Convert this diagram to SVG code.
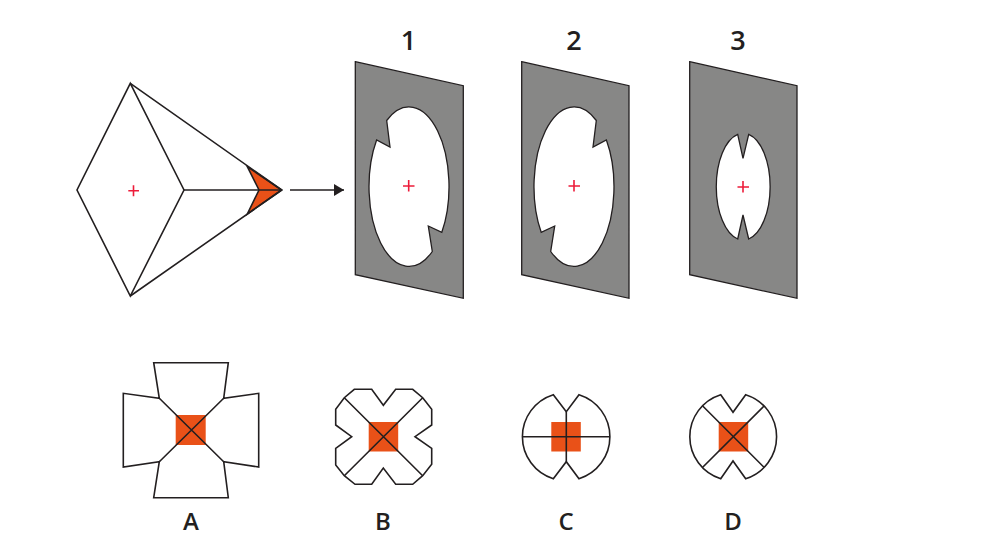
<svg xmlns="http://www.w3.org/2000/svg" width="985" height="555" viewBox="0 0 985 555">
<style>
.ln{fill:none;stroke:#231f20;stroke-width:1.6;stroke-linejoin:round}
.wh{fill:#fff;stroke:#231f20;stroke-width:1.6;stroke-linejoin:miter}
.or{fill:#e95118}
.pl{fill:#878786;fill-rule:evenodd;stroke:#231f20;stroke-width:1.3}
.cr{fill:none;stroke:#ed1c3a;stroke-width:1.6}
.nm{font-family:"Open Sans","Noto Sans",sans-serif;font-weight:600;fill:#231f20;text-anchor:middle}
.d{font-size:27px}
.l{font-size:24px}
.ar{fill:none;stroke:#231f20;stroke-width:1.5}
</style>
<defs>
<marker id="ah" markerUnits="userSpaceOnUse" markerWidth="11" markerHeight="12" refX="10" refY="6" orient="auto"><path d="M0,0L10,6L0,12Z" fill="#231f20"/></marker>
</defs>
<rect width="985" height="555" fill="#fff"/>
<g id="source">
<path class="wh" d="M130.3,83.3L184,190L130.3,296L77,190Z"/>
<path class="or" stroke="#231f20" stroke-width="1.6" stroke-linejoin="miter" d="M247.3,166.7L281.7,190L247.3,214L259,190Z"/>
<path class="ln" d="M130.3,83.3L281.7,190L130.3,296M184,190H281.7"/>
<path class="cr" d="M128.3,190.7H139M133.5,185.2V196.2"/>
</g>
<g id="connectors">
<path class="ar" d="M290,190H344" marker-end="url(#ah)"/>
</g>
<g id="panel-1">
<path class="pl" d="M355.3,61.7L463.3,85.7V298.3L355.3,274.7ZM386.7,120.5A40,79.7 0 0 1 441.8,232.3L428.3,226L432.3,251.5A40,79.7 0 0 1 376.6,140L390,147Z"/>
<path class="cr" d="M403,186H414.5M408.7,180V191.5"/>
<text class="nm d" x="408.5" y="50">1</text>
</g>
<g id="panel-2">
<path class="pl" d="M521.7,61.7L629,85.7V298.3L521.7,274.7ZM596.3,120.5A40,79.7 0 0 0 541.2,232.3L554.7,226L550.7,251.5A40,79.7 0 0 0 606.4,140L593,147Z"/>
<path class="cr" d="M568.5,186H580M574,180V191.5"/>
<text class="nm d" x="574" y="50">2</text>
</g>
<g id="panel-3">
<path class="pl" d="M689.7,61.7L797,85.7V298.3L689.7,274.7ZM737.7,134.3A27,53.5 0 0 0 737.7,239L743,215L748.7,239A27,53.5 0 0 0 748.7,134.3L743,158.3Z"/>
<path class="cr" d="M737.5,187H749M743,181V192.5"/>
<text class="nm d" x="738" y="50">3</text>
</g>
<g id="option-a">
<path class="wh" d="M153.7,362.7H228.3L223.7,398.3L258.7,393.3V467L223.7,461.7L228.3,497.7H153.7L159.3,461.7L123.3,467V393.3L159.3,398.3Z"/>
<rect class="or" x="175.7" y="415" width="30" height="30"/>
<path class="ln" d="M159.3,398.3L223.7,461.7M223.7,398.3L159.3,461.7"/>
<text class="nm l" x="191" y="530">A</text>
</g>
<g id="option-b">
<path class="wh" d="M383.3,405.3L371.7,389.3H354.3L344.3,397.7L335.7,409.3V425L351.7,436.7L335.7,448.3V465L344.3,475.7L355,484.3H371.7L383.3,468L395.7,484.3H412.7L422.7,475.7L431.7,464.3V448.3L415,436.7L431.7,425V409.3L422.7,397.7L412.7,389.3H395.7Z"/>
<rect class="or" x="368.7" y="422" width="29.5" height="29.5"/>
<path class="ln" d="M344.3,397.7L422.7,475.7M422.7,397.7L344.3,475.7"/>
<text class="nm l" x="383" y="530">B</text>
</g>
<g id="option-c">
<path class="wh" d="M566.3,411.7L553.3,394.7A44,44 0 0 0 553.3,478.7L566.3,461.7L579,478.7A44,44 0 0 0 579,394.7Z"/>
<rect class="or" x="551.3" y="422" width="29.5" height="29.5"/>
<path class="ln" d="M566.3,411.7V461.7M522.5,436.7H610"/>
<text class="nm l" x="566" y="530">C</text>
</g>
<g id="option-d">
<path class="wh" d="M733,412.3L720.7,394.7A44,44 0 0 0 720.7,478.7L733,461L745.7,478.7A44,44 0 0 0 745.7,394.7Z"/>
<rect class="or" x="718.7" y="422" width="29.5" height="29.5"/>
<path class="ln" d="M702.7,406L764,467.3M764,406L702.7,467.3"/>
<text class="nm l" x="733" y="530">D</text>
</g>
</svg>
